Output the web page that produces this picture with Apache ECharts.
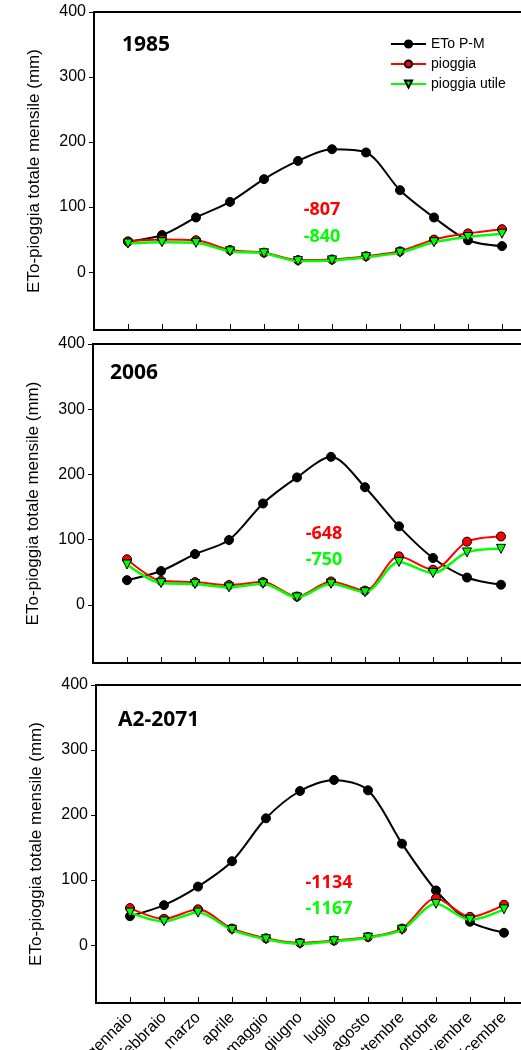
<!DOCTYPE html>
<html><head><meta charset="utf-8">
<script src="https://cdn.jsdelivr.net/npm/echarts@6/dist/echarts.min.js"></script>
<style>html,body{margin:0;padding:0;background:#fff;overflow:hidden}#c{width:521px;height:1050px}</style>
</head><body><div id="c"></div>
<script>
const months = ['gennaio','febbraio','marzo','aprile','maggio','giugno','luglio','agosto','settembre','ottobre','novembre','dicembre'];
const yTicks = [0,100,200,300,400];
const panelTitles = ['1985','2006','A2-2071'];
const seriesNames = ['ETo P-M','pioggia','pioggia utile'];
const deficitRain = ['-807','-648','-1134'];
const deficitUseful = ['-840','-750','-1167'];

const eto1985 = [47,57,84,108,143,171,189,184,126,84,49,40];
const rain1985 = [47,50,49,34,30,18.5,19.5,24.5,32,50,59.5,66];
const useful1985 = [44,46,45,32,29,17,18,23,30,46,54,59];

const eto2006 = [38,52,78,99.5,155.5,195.5,227,180.5,120.5,72,42,31];
const rain2006 = [70,37,35,30.5,35,13,36,22,74.5,54,97,105];
const useful2006 = [62,33.5,32,27,32.5,11.5,32.5,19.5,66,49,80.5,86];

const eto2071 = [44.5,61.5,90,129,195,237,254,238,156,84,36,19];
const rain2071 = [57,40.5,55,25.5,10.5,3.5,7,12.5,25.5,72,43.5,62];
const useful2071 = [50,36.5,50,23.5,9,2,6,11.5,23.5,63.5,39,55];

const panels = [
  {eto:eto1985, rain:rain1985, useful:useful1985},
  {eto:eto2006, rain:rain2006, useful:useful2006},
  {eto:eto2071, rain:rain2071, useful:useful2071}
];

const gridsPos = [
  {left:94, top:12, height:318},
  {left:93, top:344, height:319},
  {left:96, top:685, height:318}
];
const titlePos = [{x:122,y:45},{x:110,y:373},{x:118,y:720}];
const numPos = [{x:322,y1:210,y2:237},{x:324,y1:534,y2:560},{x:329,y1:883,y2:909}];

const chart = echarts.init(document.getElementById('c'));
const grid=[], xAxis=[], yAxis=[], series=[], graphic=[];
const tickVals = months.map((m,i)=>i+1);
const labelFont = 'Liberation Sans, Arial, sans-serif';

panels.forEach((p,k)=>{
  const g = gridsPos[k];
  grid.push({left:g.left, top:g.top, height:g.height, width:442, show:true, borderColor:'#000', borderWidth:2,
    backgroundColor:'transparent', containLabel:false, outerBoundsMode:'none'});
  xAxis.push({
    type:'value', gridIndex:k, min:0, max:13,
    axisLine:{show:true, onZero:false, lineStyle:{color:'#000', width:2}},
    axisTick:{show:true, inside:true, length:6, lineStyle:{color:'#000', width:1}, customValues:tickVals},
    axisLabel:{show:k===2, customValues:tickVals, rotate:45, margin:12, fontSize:16, color:'#000', fontFamily:labelFont,
      formatter:v=>months[v-1]||''},
    splitLine:{show:false}
  });
  yAxis.push({
    type:'value', gridIndex:k, min:-89, max:400,
    name:'ETo-pioggia totale mensile (mm)', nameLocation:'middle', nameGap:51,
    nameTextStyle:{fontSize:17, color:'#000', fontFamily:labelFont},
    axisLine:{show:true, lineStyle:{color:'#000', width:2}},
    axisTick:{show:true, inside:false, length:5, lineStyle:{color:'#000', width:1}, customValues:yTicks},
    axisLabel:{customValues:yTicks, fontSize:16, color:'#000', margin:8, fontFamily:labelFont},
    splitLine:{show:false}
  });
  const mk = arr => arr.map((v,i)=>[i+1,v]);
  series.push({name:seriesNames[0], type:'line', xAxisIndex:k, yAxisIndex:k, data:mk(p.eto), smooth:0.3,
    symbol:'circle', symbolSize:9, lineStyle:{color:'#000', width:2},
    itemStyle:{color:'#000', borderColor:'#000', borderWidth:1}, z:2});
  series.push({name:seriesNames[1], type:'line', xAxisIndex:k, yAxisIndex:k, data:mk(p.rain), smooth:0.3,
    symbol:'circle', symbolSize:9, lineStyle:{color:'#ff0000', width:2},
    itemStyle:{color:'#ff0000', borderColor:'#000', borderWidth:1}, z:3});
  series.push({name:seriesNames[2], type:'line', xAxisIndex:k, yAxisIndex:k, data:mk(p.useful), smooth:0.3,
    symbol:'triangle', symbolRotate:180, symbolSize:9, lineStyle:{color:'#00ff00', width:2.5},
    itemStyle:{color:'#00ff00', borderColor:'#000', borderWidth:1}, z:4});
  graphic.push({type:'text', x:titlePos[k].x, y:titlePos[k].y,
    style:{text:panelTitles[k], fontSize:21, fontWeight:'bold', fill:'#000', verticalAlign:'middle', fontFamily:'Noto Sans, sans-serif'}});
  graphic.push({type:'text', x:numPos[k].x, y:numPos[k].y1,
    style:{text:deficitRain[k], fontSize:18, fontWeight:'bold', fill:'#ff0000', align:'center', verticalAlign:'middle', fontFamily:'Noto Sans, sans-serif'}});
  graphic.push({type:'text', x:numPos[k].x, y:numPos[k].y2,
    style:{text:deficitUseful[k], fontSize:18, fontWeight:'bold', fill:'#00ff00', align:'center', verticalAlign:'middle', fontFamily:'Noto Sans, sans-serif'}});
});

chart.setOption({
  animation:false,
  backgroundColor:'#fff',
  grid, xAxis, yAxis, series, graphic,
  legend:{data:seriesNames, orient:'vertical', left:385, top:32, itemWidth:35, itemHeight:9, itemGap:6,
    textStyle:{fontSize:14, color:'#000', fontFamily:labelFont}, selectedMode:false}
});
</script></body></html>
